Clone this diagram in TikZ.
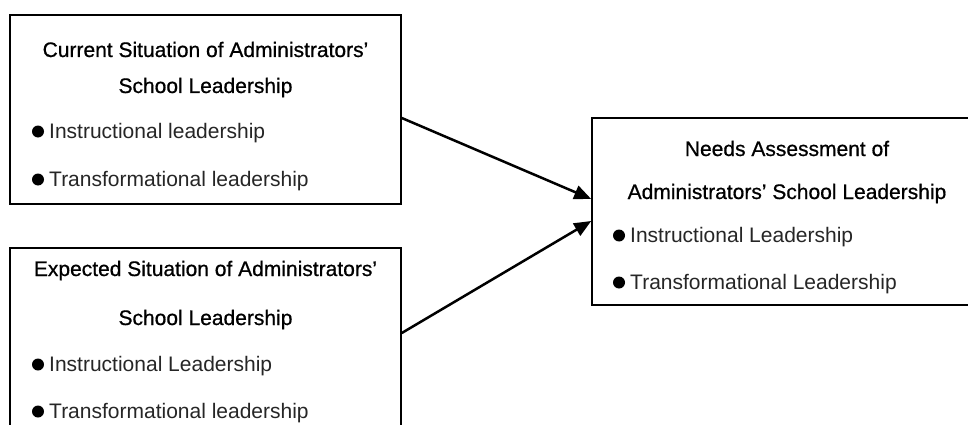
\documentclass[tikz,border=0pt]{standalone}
\usepackage{fontspec}
\setmainfont{Liberation Sans}
\newfontfamily\semib[FakeBold=0.7]{Liberation Sans}
\usetikzlibrary{arrows.meta}
\begin{document}
\begin{tikzpicture}[x=1pt,y=-1pt,
  box/.style={draw=black,line width=1.6pt,rectangle,inner sep=0pt,fill=none},
  ttl/.style={anchor=base,inner sep=0pt,font=\semib\fontsize{21}{24}\selectfont,text=black},
  itm/.style={anchor=base west,inner sep=0pt,font=\fontsize{21}{24}\selectfont,text=black!85},
  conn/.style={line width=2.5pt,-{Triangle[length=17pt,width=14pt]}},
  bul/.style={fill=black}]
\useasboundingbox (0,0) rectangle (968,425);
\clip (0,0) rectangle (968,425);
\fill[white] (0,0) rectangle (968,425);
% boxes
\node[box,minimum width=391pt,minimum height=189pt] (b1) at (205.5,109.5) {};
\node[box,minimum width=391pt,minimum height=200pt] (b2) at (205.5,348) {};
\node[box,minimum width=390pt,minimum height=187pt] (b3) at (787,211.5) {};
% box 1 text
\node[ttl] (t11) at (205.5,57) {Current Situation of Administrators’};
\node[ttl] (t12) at (205.5,93) {School Leadership};
\node[itm] (t13) at (49,138) {Instructional leadership};
\node[itm] (t14) at (49,186) {Transformational leadership};
\fill[bul] (38,131.5) circle (6);
\fill[bul] (38,179.5) circle (6);
% box 2 text
\node[ttl] (t21) at (205.5,276) {Expected Situation of Administrators’};
\node[ttl] (t22) at (205.5,325) {School Leadership};
\node[itm] (t23) at (49,371) {Instructional Leadership};
\node[itm] (t24) at (49,418) {Transformational leadership};
\fill[bul] (38,364.5) circle (6);
\fill[bul] (38,411.5) circle (6);
% box 3 text
\node[ttl] (t31) at (787,156) {Needs Assessment of};
\node[ttl] (t32) at (787,199) {Administrators’ School Leadership};
\node[itm] (t33) at (630,242) {Instructional Leadership};
\node[itm] (t34) at (630,289) {Transformational Leadership};
\fill[bul] (619,235.5) circle (6);
\fill[bul] (619,282.5) circle (6);
% connectors
\coordinate (a1s) at (b1.east |- 0,118);
\coordinate (a1e) at (b3.west |- 0,199);
\coordinate (a2s) at (b2.east |- 0,333);
\coordinate (a2e) at (b3.west |- 0,221);
\draw[conn] (a1s) -- (a1e);
\draw[conn] (a2s) -- (a2e);
\end{tikzpicture}
\end{document}
